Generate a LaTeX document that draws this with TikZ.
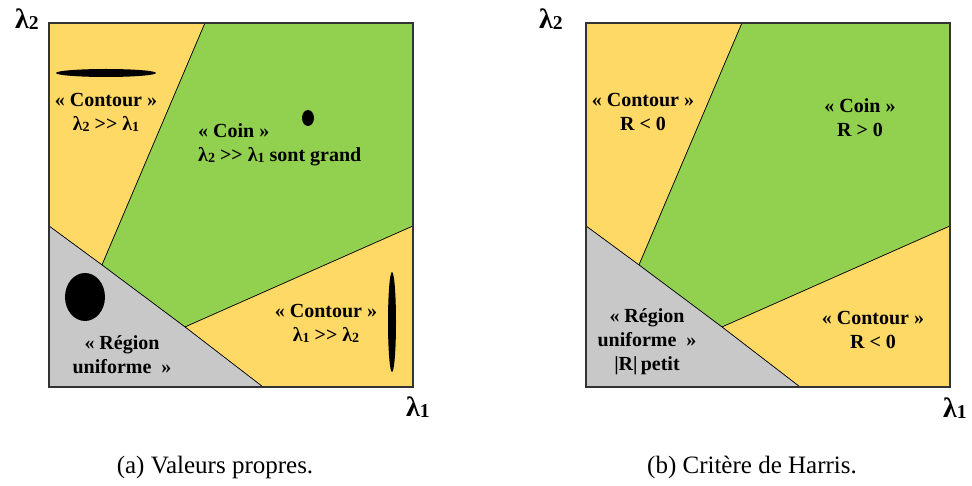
\documentclass[tikz,border=0pt]{standalone}
\usepackage{fontspec}
\setmainfont{Liberation Serif}
\usepackage{graphicx}
\usetikzlibrary{positioning}
\definecolor{zoneyellow}{RGB}{255,217,102}
\definecolor{zonegreen}{RGB}{146,208,80}
\definecolor{zonegray}{RGB}{200,200,200}
\newcommand{\lam}[1]{λ\raisebox{-0.1ex}{\scalebox{0.7}{#1}}}
\newcommand{\muchgt}{>{}>}
% the four zones of one panel, box is 364 x 364
\newcommand{\zones}{%
  \coordinate (tp) at (156,364);
  \coordinate (lf) at (0,161);
  \coordinate (ja) at (53,122);
  \coordinate (jb) at (136,60);
  \coordinate (bt) at (214,0);
  \coordinate (rt) at (364,161);
  \draw[zone, fill=zoneyellow] (0,364) -- (tp) -- (ja) -- (lf) -- cycle;
  \draw[zone, fill=zonegreen] (tp) -- (364,364) -- (rt) -- (jb) -- (ja) -- cycle;
  \draw[zone, fill=zoneyellow] (jb) -- (rt) -- (364,0) -- (bt) -- cycle;
  \draw[zone, fill=zonegray] (0,0) -- (lf) -- (ja) -- (jb) -- (bt) -- cycle;
  \draw[line width=1.2pt, black!80] (0,0) rectangle (364,364);
}

\begin{document}
\begin{tikzpicture}[x=1pt, y=1pt,
    zone/.style={draw=black, line width=0.6pt},
    zonetext/.style={font=\bfseries\fontsize{20}{24}\selectfont, align=center, inner sep=0pt},
    axislabel/.style={font=\bfseries\fontsize{28}{30}\selectfont, inner sep=0pt},
    subcap/.style={font=\fontsize{25}{28}\selectfont, inner sep=0pt}
]
\useasboundingbox (0,0) rectangle (972,485);

% (a) eigenvalues
\begin{scope}[shift={(49,98)}]
  \zones
\end{scope}
\fill (106,412) ellipse [x radius=50, y radius=4];
\fill (308,367) ellipse [x radius=6, y radius=8];
\fill (85,188) ellipse [x radius=20, y radius=24];
\fill (392,163) ellipse [x radius=4, y radius=50];
\node[axislabel] (ya) at (27,466) {\lam{2}};
\node[axislabel] (xa) at (418,78) {\lam{1}};
\node[zonetext] (edgeA) at (106,373) {« Contour »\\\lam{2} \muchgt{} \lam{1}};
\node[zonetext, anchor=west, align=left] (cornerA) at (198,340) {« Coin »\\\lam{2} \muchgt{} \lam{1} sont grand};
\node[zonetext] (edgeB) at (326,162) {« Contour »\\\lam{1} \muchgt{} \lam{2}};
\node[zonetext] (flatA) at (122,130) {« Région\\uniforme~~»};
\node[subcap] (capA) at (215,18) {(a) Valeurs propres.};

% (b) Harris response
\begin{scope}[shift={(586,98)}]
  \zones
\end{scope}
\node[axislabel] (yb) at (551,466) {\lam{2}};
\node[axislabel] (xb) at (955,77) {\lam{1}};
\node[zonetext] (edgeC) at (643,373) {« Contour »\\R < 0};
\node[zonetext] (cornerB) at (860,367) {« Coin »\\R > 0};
\node[zonetext] (edgeD) at (873,155) {« Contour »\\R < 0};
\node[zonetext] (flatB) at (647,143) {« Région\\uniforme~~»\\|R|\,petit};
\node[subcap] (capB) at (752,18) {(b) Critère de Harris.};
\end{tikzpicture}
\end{document}
